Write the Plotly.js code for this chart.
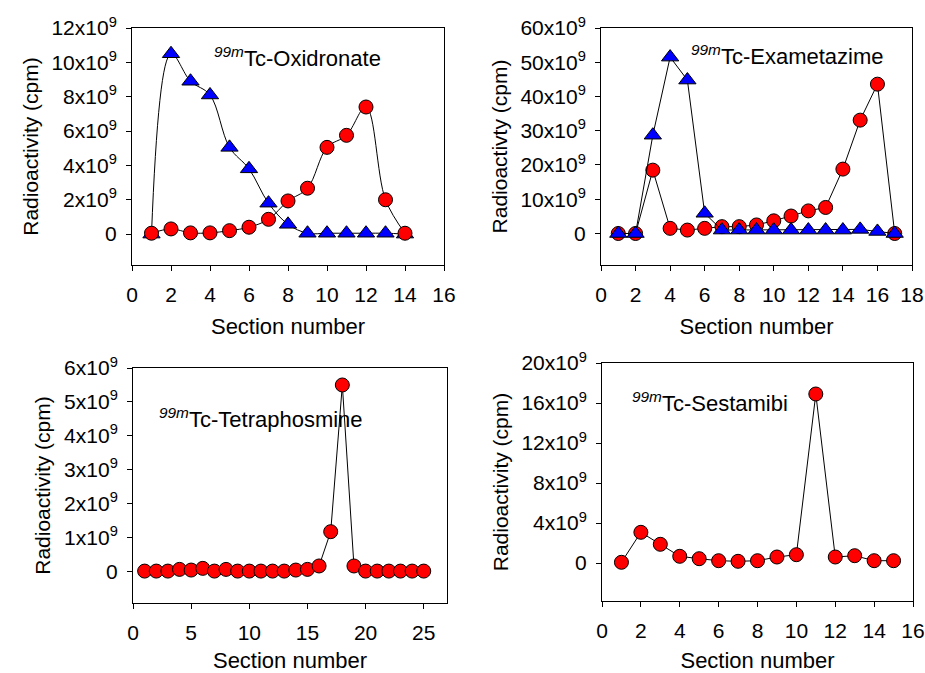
<!DOCTYPE html>
<html>
<head>
<meta charset="utf-8">
<script src="https://cdn.plot.ly/plotly-3.0.1.min.js"></script>
<style>html,body{margin:0;padding:0;background:#fff;}#chart{width:925px;height:673px;}</style>
</head>
<body>
<div id="chart"></div>
<script>
// ---- Data (values in cpm) ----
const oxiSections = [1,2,3,4,5,6,7,8,9,10,11,12,13,14];
const oxiTriangles = [0, 10.5e9, 8.9e9, 8.1e9, 5.05e9, 3.8e9, 1.8e9, 0.57e9, 0.05e9, 0.05e9, 0.05e9, 0.05e9, 0.05e9, 0];
const oxiCircles = [0.05e9, 0.3e9, 0.07e9, 0.07e9, 0.2e9, 0.4e9, 0.86e9, 1.93e9, 2.67e9, 5.05e9, 5.75e9, 7.4e9, 2.0e9, 0.05e9];

const exaSections = [1,2,3,4,5,6,7,8,9,10,11,12,13,14,15,16,17];
const exaTriangles = [0, 0, 28.7e9, 51.5e9, 44.8e9, 5.9e9, 1.0e9, 1.0e9, 1.0e9, 1.0e9, 1.0e9, 1.0e9, 1.0e9, 1.0e9, 1.2e9, 0.6e9, 0];
const exaCircles = [0, 0, 18.5e9, 1.5e9, 1.0e9, 1.5e9, 2.0e9, 2.0e9, 2.5e9, 3.7e9, 5.1e9, 6.6e9, 7.6e9, 18.8e9, 33.1e9, 43.6e9, 0];

const tetSections = [1,2,3,4,5,6,7,8,9,10,11,12,13,14,15,16,17,18,19,20,21,22,23,24,25];
const tetCircles = [0.02e9,0.02e9,0.02e9,0.07e9,0.05e9,0.1e9,0.02e9,0.07e9,0.02e9,0.02e9,0.02e9,0.02e9,0.02e9,0.05e9,0.07e9,0.17e9,1.18e9,5.5e9,0.17e9,0.02e9,0.02e9,0.02e9,0.02e9,0.02e9,0.02e9];

const sesSections = [1,2,3,4,5,6,7,8,9,10,11,12,13,14,15];
const sesCircles = [0.07e9,3.07e9,1.87e9,0.67e9,0.43e9,0.23e9,0.17e9,0.23e9,0.6e9,0.83e9,16.9e9,0.6e9,0.73e9,0.23e9,0.23e9];

// ---- Tick labels ----
const y1Vals = [0,2e9,4e9,6e9,8e9,10e9,12e9];
const y1Text = ['0','2x10<sup>9</sup>','4x10<sup>9</sup>','6x10<sup>9</sup>','8x10<sup>9</sup>','10x10<sup>9</sup>','12x10<sup>9</sup>'];
const y2Vals = [0,10e9,20e9,30e9,40e9,50e9,60e9];
const y2Text = ['0','10x10<sup>9</sup>','20x10<sup>9</sup>','30x10<sup>9</sup>','40x10<sup>9</sup>','50x10<sup>9</sup>','60x10<sup>9</sup>'];
const y3Vals = [0,1e9,2e9,3e9,4e9,5e9,6e9];
const y3Text = ['0','1x10<sup>9</sup>','2x10<sup>9</sup>','3x10<sup>9</sup>','4x10<sup>9</sup>','5x10<sup>9</sup>','6x10<sup>9</sup>'];
const y4Vals = [0,4e9,8e9,12e9,16e9,20e9];
const y4Text = ['0','4x10<sup>9</sup>','8x10<sup>9</sup>','12x10<sup>9</sup>','16x10<sup>9</sup>','20x10<sup>9</sup>'];

const panelLabels = ['<sup><i>99m</i></sup>Tc-Oxidronate','<sup><i>99m</i></sup>Tc-Exametazime','<sup><i>99m</i></sup>Tc-Tetraphosmine','<sup><i>99m</i></sup>Tc-Sestamibi'];
const xTitle = 'Section number';
const yTitles = ['Radioactivity (cpm)','Radioactivty (cpm)','Radioactivity (cpm)','Radioactivity (cpm)'];

const FONT = 'Liberation Sans, Arial, sans-serif';
const RED = '#FF0000', BLUE = '#0000FF';

function tri(x, y, xa, ya, shape) {
  return {x: x, y: y, xaxis: xa, yaxis: ya, type: 'scatter', mode: 'lines+markers',
    line: {color: '#000', width: 1, shape: shape || 'linear', smoothing: 1},
    marker: {symbol: 'triangle-up', size: 15, color: BLUE, line: {color: '#000', width: 1}},
    showlegend: false, hoverinfo: 'x+y'};
}
function cir(x, y, xa, ya, shape) {
  return {x: x, y: y, xaxis: xa, yaxis: ya, type: 'scatter', mode: 'lines+markers',
    line: {color: '#000', width: 1, shape: shape || 'linear', smoothing: 1},
    marker: {symbol: 'circle', size: 14, color: RED, line: {color: '#000', width: 1}},
    showlegend: false, hoverinfo: 'x+y'};
}

const traces = [
  tri(oxiSections, oxiTriangles, 'x', 'y', 'spline'),
  cir(oxiSections, oxiCircles, 'x', 'y', 'spline'),
  cir(exaSections, exaCircles, 'x2', 'y2'),
  tri(exaSections, exaTriangles, 'x2', 'y2'),
  cir(tetSections, tetCircles, 'x3', 'y3'),
  cir(sesSections, sesCircles, 'x4', 'y4')
];

function xax(domain, range, dtick, anchor) {
  return {domain: domain, range: range, anchor: anchor, tickmode: 'linear', tick0: 0, dtick: dtick,
    showline: true, mirror: true, linecolor: '#000', linewidth: 1, ticks: 'outside', ticklen: 5,
    tickcolor: '#000', showgrid: false, zeroline: false, ticklabelstandoff: 6,
    tickfont: {family: FONT, size: 21, color: '#000'},
    title: {text: xTitle, font: {family: FONT, size: 22, color: '#000'}, standoff: 13}, automargin: false};
}
function yax(domain, range, vals, text, anchor, title) {
  return {domain: domain, range: range, anchor: anchor, tickmode: 'array', tickvals: vals, ticktext: text,
    showline: true, mirror: true, linecolor: '#000', linewidth: 1, ticks: 'outside', ticklen: 5,
    tickcolor: '#000', showgrid: false, zeroline: false, ticklabelstandoff: 5,
    tickfont: {family: FONT, size: 21, color: '#000'},
    title: {text: title, font: {family: FONT, size: 21, color: '#000'}, standoff: 7}, automargin: false};
}

const W = 925, H = 673;
const labelFont = {family: FONT, size: 22, color: '#000'};
const layout = {
  width: W, height: H,
  margin: {l: 0, r: 0, t: 0, b: 0},
  paper_bgcolor: '#fff', plot_bgcolor: '#fff',
  font: {family: FONT, color: '#000'},
  showlegend: false,
  xaxis: xax([132/W, 444/W], [0, 16], 2, 'y'),
  yaxis: yax([1-265/H, 1-28/H], [-1.8e9, 12e9], y1Vals, y1Text, 'x', yTitles[0]),
  xaxis2: xax([601/W, 912/W], [0, 18], 2, 'y2'),
  yaxis2: yax([1-265/H, 1-28/H], [-9.2e9, 60e9], y2Vals, y2Text, 'x2', yTitles[1]),
  xaxis3: xax([133/W, 447/W], [0, 27], 5, 'y3'),
  yaxis3: yax([1-603/H, 1-368/H], [-0.92e9, 6e9], y3Vals, y3Text, 'x3', yTitles[2]),
  xaxis4: xax([602/W, 913/W], [0, 16], 2, 'y4'),
  yaxis4: yax([1-601/H, 1-363/H], [-3.8e9, 20e9], y4Vals, y4Text, 'x4', yTitles[3]),
  annotations: [
    {text: panelLabels[0], xref: 'paper', yref: 'paper', x: 212/W, y: 1-57/H, xanchor: 'left', yanchor: 'middle', showarrow: false, font: labelFont},
    {text: panelLabels[1], xref: 'paper', yref: 'paper', x: 689/W, y: 1-55/H, xanchor: 'left', yanchor: 'middle', showarrow: false, font: labelFont},
    {text: panelLabels[2], xref: 'paper', yref: 'paper', x: 157/W, y: 1-418/H, xanchor: 'left', yanchor: 'middle', showarrow: false, font: labelFont},
    {text: panelLabels[3], xref: 'paper', yref: 'paper', x: 630/W, y: 1-402/H, xanchor: 'left', yanchor: 'middle', showarrow: false, font: labelFont}
  ]
};

Plotly.newPlot('chart', traces, layout, {displayModeBar: false, staticPlot: true});
</script>
</body>
</html>
